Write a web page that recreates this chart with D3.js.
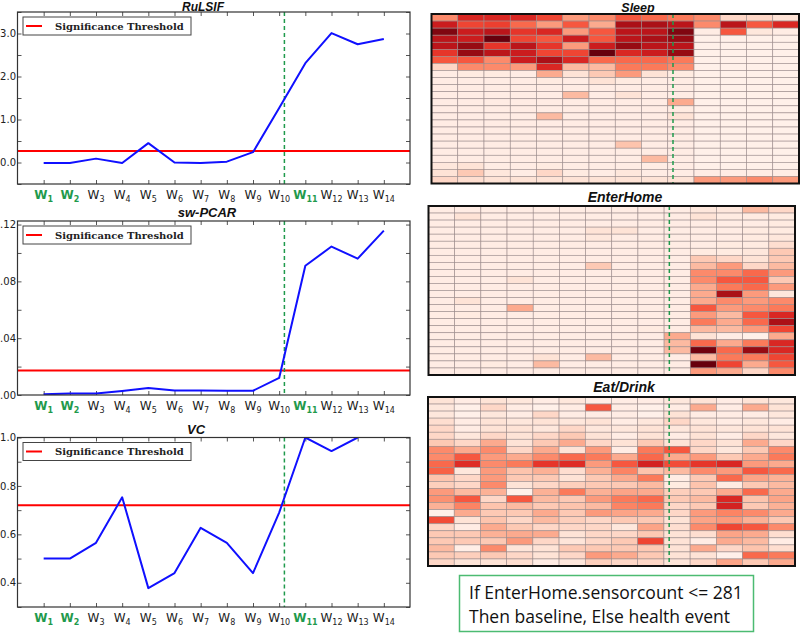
<!DOCTYPE html>
<html>
<head>
<meta charset="utf-8">
<script src="https://cdn.jsdelivr.net/npm/d3@7"></script>
<style>
  body { margin: 0; background: #fff; }
  svg { display: block; }
</style>
</head>
<body>
<svg id="chart" width="800" height="635"></svg>
<script>
// windows W1..W14, the green ones are the baseline / event windows
const weeks = d3.range(1, 15)
const greenWeeks = [1, 2, 11]
const changeWeek = 10.2   // green dashed line in the line charts
const heatChange = 9.2    // same line in heatmap column units

const rulsif = [-0.01, -0.01, 0.09, -0.01, 0.45, 0.0, -0.01, 0.02, 0.24, 1.27, 2.31, 3.01, 2.75, 2.87]
const rulsifThreshold = 0.27
const swpcar = [0.0005, 0.001, 0.001, 0.0028, 0.005, 0.0032, 0.0032, 0.003, 0.003, 0.012, 0.091, 0.1045, 0.096, 0.1157]
const swpcarThreshold = 0.0172
const vc = [0.5, 0.5, 0.565, 0.753, 0.378, 0.44, 0.627, 0.565, 0.44, 0.69, 1.0, 0.944, 1.0, null]
const vcThreshold = 0.72

// heatmaps: 24 rows (hours) x 14 columns (windows), values 0..1
const sleep = [
  [0.40, 0.70, 0.70, 0.70, 0.60, 0.35, 0.40, 0.55, 0.50, 0.45, 0.40, 0.15, 0.15, 0.10],
  [0.75, 0.60, 0.62, 0.50, 0.35, 0.55, 0.30, 0.85, 0.85, 0.80, 0.40, 0.80, 0.55, 0.70],
  [0.95, 0.75, 0.80, 0.65, 0.70, 0.35, 0.55, 0.80, 0.80, 0.95, 0.05, 0.55, 0.08, 0.05],
  [0.80, 0.75, 1.00, 0.60, 0.55, 0.75, 0.55, 0.80, 0.85, 0.90, 0.03, 0.03, 0.03, 0.03],
  [0.80, 0.90, 0.65, 0.80, 0.65, 0.35, 0.75, 0.90, 0.80, 0.80, 0.03, 0.03, 0.03, 0.03],
  [0.65, 0.90, 0.80, 0.75, 0.60, 0.60, 1.00, 0.70, 0.75, 0.90, 0.03, 0.03, 0.03, 0.03],
  [0.55, 0.55, 0.40, 0.75, 0.85, 0.70, 0.50, 0.50, 0.50, 0.45, 0.03, 0.03, 0.03, 0.03],
  [0.15, 0.40, 0.40, 0.35, 0.70, 0.25, 0.25, 0.45, 0.45, 0.40, 0.03, 0.03, 0.03, 0.03],
  [0.05, 0.06, 0.06, 0.05, 0.30, 0.10, 0.20, 0.35, 0.10, 0.06, 0.03, 0.03, 0.03, 0.03],
  [0.05, 0.05, 0.05, 0.05, 0.06, 0.05, 0.10, 0.06, 0.05, 0.05, 0.03, 0.03, 0.03, 0.03],
  [0.05, 0.05, 0.05, 0.05, 0.05, 0.05, 0.05, 0.05, 0.05, 0.05, 0.03, 0.03, 0.03, 0.03],
  [0.05, 0.05, 0.05, 0.05, 0.05, 0.25, 0.05, 0.10, 0.05, 0.05, 0.03, 0.03, 0.03, 0.03],
  [0.05, 0.05, 0.05, 0.05, 0.05, 0.05, 0.05, 0.05, 0.05, 0.30, 0.03, 0.03, 0.03, 0.03],
  [0.05, 0.05, 0.05, 0.05, 0.05, 0.05, 0.05, 0.05, 0.05, 0.06, 0.03, 0.03, 0.03, 0.03],
  [0.05, 0.05, 0.05, 0.05, 0.25, 0.05, 0.05, 0.05, 0.05, 0.10, 0.03, 0.03, 0.03, 0.03],
  [0.05, 0.05, 0.05, 0.05, 0.05, 0.05, 0.05, 0.05, 0.05, 0.05, 0.03, 0.03, 0.03, 0.03],
  [0.05, 0.05, 0.05, 0.05, 0.05, 0.05, 0.05, 0.05, 0.05, 0.05, 0.03, 0.03, 0.03, 0.03],
  [0.05, 0.05, 0.05, 0.05, 0.05, 0.05, 0.05, 0.05, 0.05, 0.05, 0.03, 0.03, 0.03, 0.03],
  [0.05, 0.05, 0.05, 0.05, 0.05, 0.05, 0.05, 0.22, 0.05, 0.05, 0.03, 0.03, 0.03, 0.03],
  [0.05, 0.05, 0.05, 0.05, 0.05, 0.05, 0.05, 0.05, 0.05, 0.05, 0.03, 0.03, 0.03, 0.03],
  [0.05, 0.05, 0.05, 0.05, 0.05, 0.05, 0.05, 0.05, 0.25, 0.05, 0.03, 0.03, 0.03, 0.03],
  [0.08, 0.10, 0.05, 0.05, 0.06, 0.05, 0.05, 0.05, 0.05, 0.05, 0.03, 0.03, 0.03, 0.03],
  [0.10, 0.20, 0.08, 0.05, 0.15, 0.06, 0.05, 0.08, 0.05, 0.05, 0.05, 0.05, 0.05, 0.05],
  [0.15, 0.12, 0.10, 0.10, 0.10, 0.10, 0.10, 0.10, 0.10, 0.10, 0.35, 0.35, 0.40, 0.35]
]

const enterHome = [
  [0.05, 0.05, 0.05, 0.05, 0.05, 0.05, 0.05, 0.05, 0.05, 0.05, 0.08, 0.08, 0.25, 0.15],
  [0.05, 0.10, 0.05, 0.05, 0.05, 0.05, 0.05, 0.05, 0.05, 0.05, 0.10, 0.06, 0.06, 0.06],
  [0.05, 0.05, 0.05, 0.05, 0.05, 0.05, 0.05, 0.05, 0.05, 0.05, 0.05, 0.05, 0.05, 0.06],
  [0.05, 0.05, 0.05, 0.05, 0.05, 0.05, 0.10, 0.10, 0.05, 0.05, 0.05, 0.05, 0.06, 0.06],
  [0.05, 0.05, 0.05, 0.05, 0.05, 0.05, 0.08, 0.05, 0.05, 0.05, 0.05, 0.05, 0.06, 0.08],
  [0.05, 0.05, 0.05, 0.05, 0.05, 0.05, 0.05, 0.05, 0.05, 0.05, 0.05, 0.06, 0.06, 0.12],
  [0.05, 0.05, 0.05, 0.05, 0.05, 0.05, 0.05, 0.05, 0.05, 0.05, 0.06, 0.06, 0.08, 0.20],
  [0.05, 0.05, 0.05, 0.05, 0.05, 0.05, 0.05, 0.05, 0.05, 0.05, 0.20, 0.15, 0.10, 0.20],
  [0.05, 0.05, 0.05, 0.05, 0.05, 0.05, 0.20, 0.05, 0.05, 0.05, 0.25, 0.35, 0.15, 0.25],
  [0.05, 0.05, 0.05, 0.05, 0.05, 0.05, 0.05, 0.05, 0.05, 0.05, 0.40, 0.40, 0.50, 0.35],
  [0.05, 0.05, 0.05, 0.10, 0.05, 0.05, 0.05, 0.05, 0.05, 0.05, 0.40, 0.55, 0.55, 0.20],
  [0.05, 0.05, 0.05, 0.05, 0.05, 0.05, 0.05, 0.05, 0.05, 0.05, 0.30, 0.45, 0.50, 0.35],
  [0.05, 0.05, 0.05, 0.05, 0.05, 0.05, 0.05, 0.05, 0.05, 0.05, 0.30, 0.85, 0.35, 0.08],
  [0.05, 0.10, 0.05, 0.05, 0.05, 0.05, 0.05, 0.05, 0.05, 0.05, 0.30, 0.40, 0.35, 0.40],
  [0.05, 0.05, 0.05, 0.30, 0.05, 0.05, 0.05, 0.05, 0.05, 0.05, 0.55, 0.35, 0.40, 0.45],
  [0.05, 0.06, 0.05, 0.05, 0.05, 0.05, 0.05, 0.05, 0.05, 0.05, 0.35, 0.25, 0.55, 0.70],
  [0.05, 0.05, 0.05, 0.05, 0.05, 0.05, 0.05, 0.05, 0.05, 0.05, 0.45, 0.30, 0.50, 0.85],
  [0.05, 0.05, 0.05, 0.05, 0.05, 0.05, 0.05, 0.05, 0.06, 0.05, 0.25, 0.25, 0.35, 0.60],
  [0.05, 0.05, 0.05, 0.05, 0.05, 0.05, 0.05, 0.05, 0.05, 0.30, 0.10, 0.05, 0.03, 0.30],
  [0.05, 0.05, 0.05, 0.05, 0.05, 0.05, 0.05, 0.05, 0.05, 0.25, 0.50, 0.30, 0.45, 0.70],
  [0.05, 0.05, 0.05, 0.05, 0.05, 0.05, 0.05, 0.05, 0.05, 0.25, 0.98, 0.50, 0.90, 0.70],
  [0.05, 0.05, 0.05, 0.05, 0.10, 0.05, 0.25, 0.05, 0.05, 0.05, 0.25, 0.45, 0.45, 0.60],
  [0.05, 0.05, 0.06, 0.05, 0.25, 0.05, 0.05, 0.05, 0.05, 0.05, 1.00, 0.60, 0.30, 0.55],
  [0.05, 0.05, 0.05, 0.05, 0.05, 0.05, 0.05, 0.05, 0.05, 0.05, 0.35, 0.30, 0.15, 0.40]
]

const eatDrink = [
  [0.10, 0.05, 0.10, 0.08, 0.05, 0.08, 0.05, 0.05, 0.05, 0.08, 0.10, 0.05, 0.10, 0.08],
  [0.08, 0.03, 0.15, 0.05, 0.03, 0.05, 0.55, 0.05, 0.03, 0.05, 0.30, 0.05, 0.30, 0.10],
  [0.08, 0.03, 0.08, 0.05, 0.15, 0.05, 0.05, 0.05, 0.03, 0.10, 0.05, 0.05, 0.05, 0.08],
  [0.12, 0.05, 0.10, 0.08, 0.10, 0.08, 0.10, 0.05, 0.08, 0.15, 0.08, 0.05, 0.08, 0.05],
  [0.15, 0.05, 0.10, 0.10, 0.08, 0.15, 0.08, 0.08, 0.10, 0.08, 0.10, 0.08, 0.10, 0.10],
  [0.15, 0.08, 0.15, 0.10, 0.15, 0.20, 0.10, 0.05, 0.10, 0.05, 0.10, 0.05, 0.15, 0.08],
  [0.20, 0.15, 0.30, 0.10, 0.20, 0.30, 0.15, 0.10, 0.20, 0.10, 0.15, 0.10, 0.30, 0.15],
  [0.40, 0.30, 0.40, 0.15, 0.30, 0.10, 0.35, 0.05, 0.45, 0.55, 0.15, 0.08, 0.20, 0.40],
  [0.40, 0.55, 0.35, 0.30, 0.40, 0.50, 0.45, 0.30, 0.50, 0.30, 0.35, 0.20, 0.30, 0.45],
  [0.50, 0.68, 0.40, 0.45, 0.65, 0.68, 0.35, 0.55, 0.72, 0.58, 0.65, 0.70, 0.35, 0.30],
  [0.52, 0.08, 0.35, 0.22, 0.28, 0.12, 0.28, 0.42, 0.22, 0.25, 0.40, 0.35, 0.55, 0.50],
  [0.22, 0.15, 0.35, 0.20, 0.20, 0.10, 0.20, 0.30, 0.45, 0.05, 0.20, 0.50, 0.32, 0.28],
  [0.18, 0.15, 0.40, 0.10, 0.15, 0.18, 0.20, 0.20, 0.25, 0.06, 0.22, 0.06, 0.20, 0.25],
  [0.35, 0.25, 0.28, 0.03, 0.28, 0.45, 0.28, 0.32, 0.30, 0.18, 0.20, 0.30, 0.50, 0.30],
  [0.38, 0.55, 0.15, 0.55, 0.25, 0.20, 0.35, 0.45, 0.50, 0.20, 0.25, 0.70, 0.22, 0.32],
  [0.28, 0.42, 0.22, 0.25, 0.20, 0.22, 0.25, 0.42, 0.45, 0.15, 0.20, 0.72, 0.20, 0.28],
  [0.03, 0.30, 0.20, 0.20, 0.30, 0.20, 0.35, 0.32, 0.30, 0.15, 0.35, 0.42, 0.40, 0.30],
  [0.58, 0.10, 0.22, 0.15, 0.25, 0.18, 0.15, 0.20, 0.20, 0.10, 0.32, 0.35, 0.28, 0.20],
  [0.15, 0.05, 0.30, 0.20, 0.15, 0.15, 0.15, 0.08, 0.32, 0.12, 0.40, 0.60, 0.55, 0.40],
  [0.20, 0.20, 0.28, 0.30, 0.30, 0.10, 0.15, 0.15, 0.20, 0.10, 0.12, 0.32, 0.30, 0.12],
  [0.20, 0.20, 0.20, 0.35, 0.15, 0.09, 0.15, 0.20, 0.60, 0.10, 0.05, 0.30, 0.25, 0.05],
  [0.25, 0.04, 0.40, 0.09, 0.10, 0.20, 0.20, 0.20, 0.20, 0.10, 0.30, 0.15, 0.22, 0.12],
  [0.20, 0.18, 0.20, 0.15, 0.10, 0.15, 0.35, 0.30, 0.20, 0.10, 0.10, 0.03, 0.50, 0.45],
  [0.15, 0.09, 0.10, 0.12, 0.05, 0.08, 0.18, 0.15, 0.15, 0.09, 0.15, 0.32, 0.20, 0.30]
]

const ruleLines = ['If EnterHome.sensorcount <= 281', 'Then baseline, Else health event']

const svg = d3.select('#chart')
const green = '#1f9a4c'
const labelFont = 'DejaVu Sans, sans-serif'
const titleFont = 'Liberation Sans, Arial, sans-serif'

function linePanel (opt) {
  const { top, bottom, title, titleX, titleY, titleSize, values, threshold, domain, tickValues, labelValues, fmt } = opt
  const left = 17.5
  const right = 410
  const x = d3.scaleLinear().domain([0, 15]).range([left, right])
  const y = d3.scaleLinear().domain(domain).range([bottom, top])
  const g = svg.append('g')
  const clipId = 'clip-' + title.replace(/\W/g, '')

  g.append('clipPath').attr('id', clipId)
    .append('rect')
    .attr('x', left).attr('y', top)
    .attr('width', right - left).attr('height', bottom - top)

  const isLabel = v => labelValues.some(l => Math.abs(l - v) < 1e-9)

  // inward ticks on all four sides
  g.append('g')
    .attr('transform', `translate(${left},0)`)
    .call(d3.axisLeft(y).tickValues(tickValues).tickSizeInner(-4).tickSizeOuter(0).tickPadding(1.5)
      .tickFormat(v => isLabel(v) ? fmt(v) : ''))
    .call(a => a.select('.domain').remove())
    .call(a => a.selectAll('line').attr('stroke', '#555'))
    .call(a => a.selectAll('text').attr('font-family', labelFont).attr('font-size', 10).attr('fill', '#222'))
  g.append('g')
    .attr('transform', `translate(${right},0)`)
    .call(d3.axisRight(y).tickValues(tickValues).tickSizeInner(-4).tickSizeOuter(0).tickFormat(''))
    .call(a => a.select('.domain').remove())
    .call(a => a.selectAll('line').attr('stroke', '#555'))
  g.append('g')
    .attr('transform', `translate(0,${bottom})`)
    .call(d3.axisBottom(x).tickValues(weeks).tickSizeInner(-4).tickSizeOuter(0).tickFormat(''))
    .call(a => a.select('.domain').remove())
    .call(a => a.selectAll('line').attr('stroke', '#555'))
  g.append('g')
    .attr('transform', `translate(0,${top})`)
    .call(d3.axisTop(x).tickValues(weeks).tickSizeInner(-4).tickSizeOuter(0).tickFormat(''))
    .call(a => a.select('.domain').remove())
    .call(a => a.selectAll('line').attr('stroke', '#555'))

  // W labels with subscripts
  const lab = g.selectAll('text.wlab').data(weeks).join('text')
    .attr('class', 'wlab')
    .attr('x', d => x(d))
    .attr('y', bottom + 14.5)
    .attr('text-anchor', 'middle')
    .attr('font-family', labelFont)
    .attr('font-size', 12)
    .attr('font-weight', d => greenWeeks.includes(d) ? 'bold' : 'normal')
    .attr('fill', d => greenWeeks.includes(d) ? green : '#222')
  lab.append('tspan').text('W')
  lab.append('tspan').attr('dy', 3).attr('font-size', 8).text(d => d)

  // threshold
  g.append('line')
    .attr('x1', left).attr('x2', right)
    .attr('y1', y(threshold)).attr('y2', y(threshold))
    .attr('stroke', '#ff0000').attr('stroke-width', 2)

  // change point
  g.append('line')
    .attr('x1', x(changeWeek)).attr('x2', x(changeWeek))
    .attr('y1', top).attr('y2', bottom)
    .attr('stroke', green).attr('stroke-width', 1.5)
    .attr('stroke-dasharray', '4,3')

  const line = d3.line()
    .defined(d => d != null)
    .x((d, i) => x(weeks[i]))
    .y(d => y(d))

  g.append('path')
    .datum(values)
    .attr('clip-path', `url(#${clipId})`)
    .attr('fill', 'none')
    .attr('stroke', '#1010ff')
    .attr('stroke-width', 2)
    .attr('stroke-linejoin', 'round')
    .attr('d', line)

  // frame
  g.append('rect')
    .attr('x', left).attr('y', top)
    .attr('width', right - left).attr('height', bottom - top)
    .attr('fill', 'none').attr('stroke', '#333').attr('stroke-width', 1.2)

  // legend
  const lg = g.append('g').attr('transform', `translate(${left + 5.5},${top + 5})`)
  lg.append('rect')
    .attr('width', 168).attr('height', 18)
    .attr('fill', '#fff').attr('stroke', '#444').attr('stroke-width', 1)
  lg.append('line')
    .attr('x1', 3).attr('x2', 19).attr('y1', 9).attr('y2', 9)
    .attr('stroke', '#ff0000').attr('stroke-width', 2)
  lg.append('text')
    .attr('x', 32).attr('y', 12.5)
    .attr('font-family', 'DejaVu Serif, serif')
    .attr('font-weight', 'bold')
    .attr('font-size', 10)
    .attr('fill', '#222')
    .text('Significance Threshold')

  g.append('text')
    .attr('x', titleX).attr('y', titleY)
    .attr('text-anchor', 'middle')
    .attr('font-family', titleFont)
    .attr('font-style', 'italic').attr('font-weight', 'bold')
    .attr('font-size', titleSize)
    .attr('fill', '#111')
    .text(title)
}

function heatPanel (opt) {
  const { left, right, top, bottom, title, titleX, titleY, titleSize, data } = opt
  const x = d3.scaleLinear().domain([0, 14]).range([left, right])
  const y = d3.scaleLinear().domain([0, data.length]).range([top, bottom])
  const color = d3.scaleSequential(d3.interpolateReds).domain([0, 1])
  const g = svg.append('g')
  const cells = data.flatMap((row, r) => row.map((v, c) => ({ r, c, v })))

  g.selectAll('rect.cell').data(cells).join('rect')
    .attr('class', 'cell')
    .attr('x', d => x(d.c)).attr('y', d => y(d.r))
    .attr('width', d => x(d.c + 1) - x(d.c))
    .attr('height', d => y(d.r + 1) - y(d.r))
    .attr('fill', d => color(d.v))
    .attr('stroke', '#9c8c8c').attr('stroke-width', 0.6)

  g.append('line')
    .attr('x1', x(heatChange)).attr('x2', x(heatChange))
    .attr('y1', top).attr('y2', bottom)
    .attr('stroke', green).attr('stroke-width', 1.5)
    .attr('stroke-dasharray', '4,3')

  g.append('rect')
    .attr('x', left).attr('y', top)
    .attr('width', right - left).attr('height', bottom - top)
    .attr('fill', 'none').attr('stroke', '#111').attr('stroke-width', 2)

  g.append('text')
    .attr('x', titleX).attr('y', titleY)
    .attr('text-anchor', 'middle')
    .attr('font-family', titleFont)
    .attr('font-style', 'italic').attr('font-weight', 'bold')
    .attr('font-size', titleSize)
    .attr('fill', '#111')
    .text(title)
}

// sw-PCAR labels show without the leading zero (".04")
const noLeadZero = v => d3.format('.2f')(v).replace(/^0/, '')

linePanel({
  top: 12, bottom: 184, title: 'RuLSIF', titleX: 203, titleY: 11, titleSize: 12, values: rulsif, threshold: rulsifThreshold,
  domain: [-0.5, 3.5], tickValues: d3.range(-0.5, 3.51, 0.5), labelValues: [0, 1, 2, 3], fmt: d3.format('.1f')
})
linePanel({
  top: 221, bottom: 395, title: 'sw-PCAR', titleX: 207, titleY: 217, titleSize: 13, values: swpcar, threshold: swpcarThreshold,
  domain: [0, 0.1225], tickValues: d3.range(0, 0.121, 0.02), labelValues: [0, 0.04, 0.08, 0.12], fmt: noLeadZero
})
linePanel({
  top: 437.5, bottom: 607, title: 'VC', titleX: 196, titleY: 433.5, titleSize: 13, values: vc, threshold: vcThreshold,
  domain: [0.3, 1.0], tickValues: d3.range(0.3, 1.01, 0.1), labelValues: [0.4, 0.6, 0.8, 1.0], fmt: d3.format('.1f')
})

heatPanel({ left: 431.5, right: 799, top: 14, bottom: 183.5, title: 'Sleep', titleX: 638, titleY: 11.5, titleSize: 12.5, data: sleep })
heatPanel({ left: 428.5, right: 795, top: 206, bottom: 375, title: 'EnterHome', titleX: 625, titleY: 202, titleSize: 14, data: enterHome })
heatPanel({ left: 428, right: 795, top: 397, bottom: 566, title: 'Eat/Drink', titleX: 624, titleY: 392, titleSize: 14, data: eatDrink })

// rule box
const box = svg.append('g').attr('transform', 'translate(459.5,575.5)')
box.append('rect')
  .attr('width', 294).attr('height', 56)
  .attr('fill', '#fff').attr('stroke', '#4cbb72').attr('stroke-width', 1.5)
box.selectAll('text').data(ruleLines).join('text')
  .attr('x', 9.5)
  .attr('y', (d, i) => 23.5 + i * 23.5)
  .attr('font-family', 'Open Sans, sans-serif')
  .attr('font-size', 17.5)
  .attr('fill', '#111')
  .text(d => d)
</script>
</body>
</html>
